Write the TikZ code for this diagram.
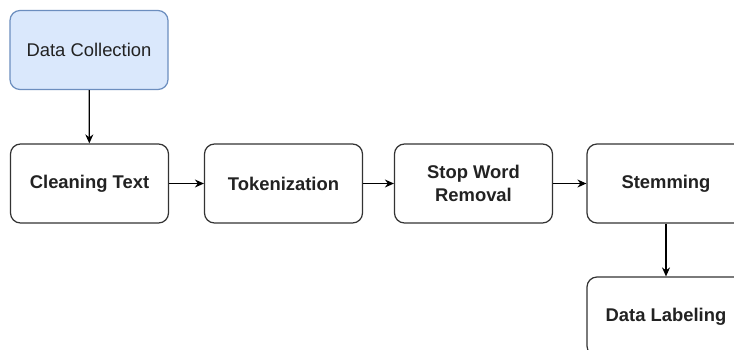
\documentclass[tikz,border=0pt]{standalone}
\usepackage{fontspec}
\setmainfont{Liberation Sans}
\usetikzlibrary{arrows.meta,positioning}

\definecolor{blfill}{HTML}{DAE8FC}
\definecolor{bldraw}{HTML}{6C8EBF}
\definecolor{boxline}{HTML}{333333}
\definecolor{boxtext}{HTML}{222222}

\tikzset{
  stage/.style={draw=boxline, line width=1.2pt, fill=white, rounded corners=10pt,
    minimum width=158pt, minimum height=79pt, align=center, text=boxtext,
    font=\fontsize{18.4}{22.5}\selectfont\bfseries},
  source/.style={stage, draw=bldraw, fill=blfill, font=\fontsize{18.4}{22.5}\selectfont},
  flow/.style={-{Stealth[length=9pt,width=8pt]}, line width=1.2pt}
}

\begin{document}
\begin{tikzpicture}[x=1pt,y=-1pt]
 \clip (0,0) rectangle (734,349);
 \fill[white] (0,0) rectangle (734,349);
 % input
 \node[source] (collect) at (89,50) {Data Collection};
 % preprocessing chain
 \node[stage] (clean) at (89.5,183.5) {Cleaning Text};
 \node[stage] (token) at (283.5,183.5) {Tokenization};
 \node[stage] (stop) at (473.5,183.5) {Stop Word\\Removal};
 \node[stage] (stem) at (666,183.5) {Stemming};
 \node[stage] (label) at (666,316.5) {Data Labeling};
 % arrows
 \draw[flow] (collect) -- (clean);
 \draw[flow] (clean) -- (token);
 \draw[flow] (token) -- (stop);
 \draw[flow] (stop) -- (stem);
 \draw[flow] (stem) -- (label);
\end{tikzpicture}
\end{document}
